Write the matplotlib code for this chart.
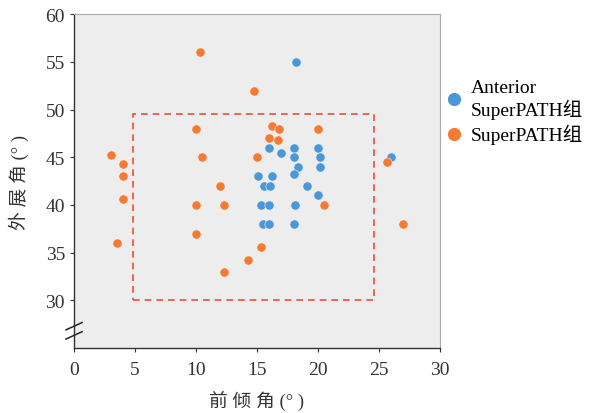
import matplotlib.pyplot as plt
from matplotlib.lines import Line2D

plt.rcParams['font.family'] = ['Liberation Serif', 'Noto Sans CJK SC']

# Anterior SuperPATH group
ant_x = [18.2, 16.0, 17.0, 18.0, 18.0, 20.0, 20.2, 20.2, 18.4, 18.0, 15.1, 16.2,
         15.6, 16.1, 19.1, 20.0, 15.3, 16.0, 18.1, 15.5, 16.0, 18.0, 26.0]
ant_y = [55.0, 46.0, 45.5, 46.0, 45.0, 46.0, 45.0, 44.0, 44.0, 43.2, 43.0, 43.0,
         42.0, 42.0, 42.0, 41.0, 40.0, 40.0, 40.0, 38.0, 38.0, 38.0, 45.0]

# SuperPATH group
sp_x = [10.3, 14.8, 10.0, 10.5, 15.0, 3.0, 4.0, 4.0, 4.0, 3.5, 10.0, 10.0, 12.0,
        12.3, 12.3, 14.3, 15.3, 16.2, 16.8, 16.0, 16.7, 20.0, 20.5, 25.7, 27.0]
sp_y = [56.0, 52.0, 48.0, 45.0, 45.0, 45.2, 44.3, 43.0, 40.6, 36.0, 40.0, 37.0, 42.0,
        40.0, 33.0, 34.2, 35.6, 48.3, 48.0, 47.0, 46.8, 48.0, 40.0, 44.5, 38.0]

# dashed safe-zone box
box_x = [4.8, 24.6, 24.6, 4.8, 4.8]
box_y = [30.0, 30.0, 49.5, 49.5, 30.0]

blue = '#4a98d8'
orange = '#f57a33'

fig = plt.figure(figsize=(5.92, 4.14), dpi=100)
ax = fig.add_axes([0.125, 0.157, 0.618, 0.806])
ax.set_facecolor('#ededed')

ax.plot(box_x, box_y, linestyle=(0, (4, 3)), color='#f04c36', linewidth=1.2, zorder=2)
ax.scatter(ant_x, ant_y, s=44, color=blue, edgecolors='#f5f5f5', linewidths=0.4, zorder=3)
ax.scatter(sp_x, sp_y, s=44, color=orange, edgecolors='#f5f5f5', linewidths=0.4, zorder=3)

ax.set_xlim(0, 30)
ax.set_ylim(25, 60)
ax.set_xticks([0, 5, 10, 15, 20, 25, 30])
ax.set_yticks([30, 35, 40, 45, 50, 55, 60])
ax.tick_params(labelsize=14, colors='#333333', length=3, width=0.8)
ax.tick_params(axis='x', pad=6)

for s in ['left', 'bottom']:
    ax.spines[s].set_color('#333333')
    ax.spines[s].set_linewidth(1.0)
for s in ['top', 'right']:
    ax.spines[s].set_color('#aaaaaa')
    ax.spines[s].set_linewidth(0.8)

# axis break marks
for yc in [0.0653, 0.0378]:
    ax.plot([-0.022, 0.022], [yc - 0.011, yc + 0.011], transform=ax.transAxes,
            color='#222222', linewidth=1.1, clip_on=False, zorder=5)

ax.set_xlabel('前 倾 角 (° )', fontsize=13.5, color='#333333', labelpad=9)
ax.set_ylabel('外 展 角 (° )', fontsize=13.5, color='#333333', labelpad=12)

handles = [Line2D([], [], marker='o', linestyle='', color=blue, markersize=8.5),
           Line2D([], [], marker='o', linestyle='', color=orange, markersize=8.5)]
fig.legend(handles, ['Anterior\nSuperPATH组', 'SuperPATH组'], loc='upper left',
           bbox_to_anchor=(0.717, 0.85), frameon=False, fontsize=14,
           handletextpad=0.3, labelspacing=0.25, handlelength=1.2)

fig.savefig('out.png', dpi=100)
